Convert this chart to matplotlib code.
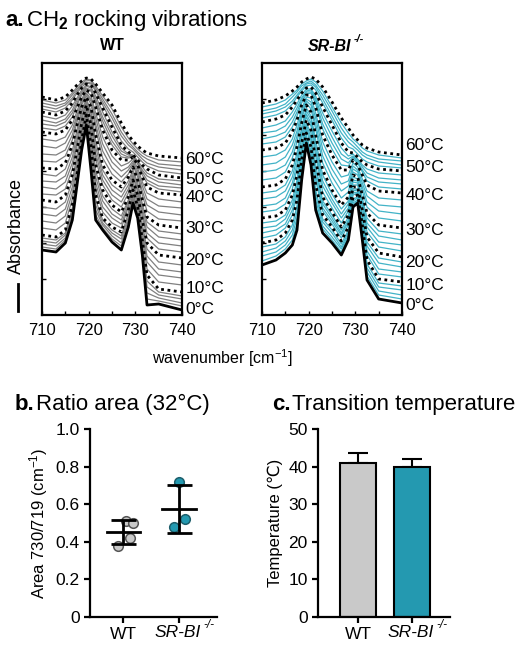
import numpy as np
import matplotlib
matplotlib.use("Agg")
import matplotlib.pyplot as plt
from matplotlib.lines import Line2D

plt.rcParams['font.family'] = ['Liberation Sans', 'DejaVu Sans']
plt.rcParams['mathtext.fontset'] = 'custom'
plt.rcParams['mathtext.rm'] = 'Liberation Sans'
plt.rcParams['mathtext.it'] = 'Liberation Sans:italic'
plt.rcParams['mathtext.bf'] = 'Liberation Sans:bold'

# ---- datos ----
onda = [710, 713, 715, 716.5, 717.5, 718.5, 719.5, 720.5, 721.5, 723, 725,
        727, 728.5, 729.5, 730.5, 731.5, 732.5, 735, 740]
temperaturas = list(range(0, 62, 2))

# absorbancia (unidades arbitrarias, desplazadas) WT, una fila por temperatura
espectros_wt = [
    [65, 63, 72, 95, 130, 165, 190, 145, 95, 85, 73, 65, 88, 112, 97, 60, 10, 11, 5],
    [68, 66, 75, 98, 132, 167, 192, 150, 100, 87, 76, 69, 91, 115, 99, 63, 16, 14, 9],
    [71, 69, 77, 101, 134, 169, 194, 155, 105, 90, 79, 72, 95, 117, 101, 66, 22, 17, 12],
    [74, 72, 80, 104, 136, 171, 196, 160, 110, 92, 82, 76, 98, 120, 104, 69, 28, 20, 16],
    [77, 75, 82, 107, 138, 173, 198, 165, 115, 95, 85, 79, 102, 122, 106, 72, 34, 23, 19],
    [80, 78, 85, 110, 140, 175, 200, 170, 120, 97, 88, 83, 105, 125, 108, 75, 40, 26, 23],
    [87, 85, 92, 116, 145, 178, 202, 174, 126, 103, 92, 87, 108, 127, 110, 79, 46, 33, 30],
    [94, 92, 99, 122, 150, 182, 204, 178, 132, 108, 97, 91, 110, 129, 113, 83, 53, 40, 37],
    [101, 99, 106, 128, 155, 185, 206, 182, 138, 114, 101, 95, 113, 131, 115, 87, 59, 46, 43],
    [108, 106, 113, 134, 160, 189, 208, 186, 144, 119, 106, 99, 115, 133, 118, 91, 66, 53, 50],
    [115, 113, 120, 140, 165, 192, 210, 190, 150, 125, 110, 103, 118, 135, 120, 95, 72, 60, 57],
    [121, 120, 126, 146, 170, 195, 212, 194, 156, 130, 115, 108, 122, 138, 123, 99, 77, 66, 63],
    [128, 126, 133, 152, 175, 198, 213, 197, 162, 135, 120, 113, 126, 140, 126, 103, 82, 72, 69],
    [134, 133, 139, 158, 180, 202, 215, 201, 168, 140, 125, 118, 130, 143, 129, 107, 88, 78, 75],
    [141, 139, 146, 164, 185, 205, 216, 204, 174, 145, 130, 123, 134, 145, 132, 111, 93, 84, 81],
    [147, 146, 152, 170, 190, 208, 218, 208, 180, 150, 135, 128, 138, 148, 135, 115, 98, 90, 87],
    [154, 153, 159, 175, 193, 210, 219, 211, 186, 157, 141, 133, 141, 150, 138, 120, 104, 96, 94],
    [161, 160, 165, 180, 197, 212, 221, 214, 191, 164, 147, 138, 145, 152, 141, 124, 110, 103, 100],
    [169, 167, 172, 185, 200, 214, 222, 216, 197, 171, 153, 144, 148, 154, 144, 129, 116, 109, 107],
    [176, 174, 178, 190, 204, 216, 224, 219, 202, 178, 159, 149, 152, 156, 147, 133, 122, 116, 113],
    [183, 181, 185, 195, 207, 218, 225, 222, 208, 185, 165, 155, 155, 158, 150, 138, 128, 122, 120],
    [187, 185, 189, 198, 210, 220, 226, 224, 211, 189, 170, 158, 157, 158, 151, 140, 132, 126, 123],
    [191, 189, 193, 202, 212, 222, 227, 225, 214, 194, 174, 161, 158, 159, 152, 143, 135, 129, 127],
    [195, 192, 196, 205, 215, 223, 229, 227, 216, 198, 179, 164, 160, 159, 153, 145, 139, 133, 130],
    [199, 196, 200, 209, 217, 225, 230, 228, 219, 203, 183, 167, 161, 160, 154, 148, 142, 136, 134],
    [203, 200, 204, 212, 220, 227, 231, 230, 222, 207, 188, 170, 163, 160, 155, 150, 146, 140, 137],
    [206, 203, 207, 215, 222, 228, 232, 231, 224, 210, 192, 174, 166, 163, 158, 153, 149, 144, 141],
    [209, 206, 210, 217, 224, 230, 233, 232, 225, 213, 197, 179, 170, 166, 161, 156, 152, 148, 145],
    [212, 209, 212, 220, 226, 231, 235, 234, 227, 216, 201, 183, 173, 168, 163, 159, 156, 151, 149],
    [215, 212, 215, 222, 228, 233, 236, 235, 229, 219, 206, 188, 177, 171, 166, 162, 159, 155, 153],
    [218, 215, 218, 225, 230, 234, 237, 236, 231, 222, 210, 192, 180, 174, 169, 165, 162, 159, 157],
]

espectros_sr = [
    [50, 55, 62, 70, 85, 135, 172, 150, 105, 82, 72, 60, 75, 108, 112, 75, 35, 16, 12],
    [54, 59, 66, 75, 91, 139, 174, 154, 110, 86, 75, 63, 78, 110, 114, 78, 39, 20, 16],
    [59, 63, 70, 80, 97, 143, 176, 157, 115, 89, 78, 66, 80, 112, 115, 81, 43, 24, 20],
    [63, 67, 74, 85, 103, 147, 178, 161, 120, 93, 82, 68, 83, 114, 117, 84, 47, 28, 25],
    [68, 71, 78, 90, 109, 151, 180, 164, 125, 96, 85, 71, 85, 116, 118, 87, 51, 32, 29],
    [72, 75, 82, 95, 115, 155, 182, 168, 130, 100, 88, 74, 88, 118, 120, 90, 55, 36, 33],
    [77, 80, 87, 100, 120, 158, 185, 171, 135, 104, 91, 77, 90, 120, 122, 93, 60, 41, 38],
    [82, 85, 91, 105, 125, 162, 187, 175, 140, 107, 94, 80, 93, 122, 123, 96, 64, 46, 43],
    [87, 89, 96, 110, 130, 165, 190, 178, 145, 111, 97, 82, 95, 124, 125, 99, 69, 52, 48],
    [92, 94, 100, 115, 135, 169, 192, 182, 150, 114, 100, 85, 98, 126, 126, 102, 73, 57, 53],
    [97, 99, 105, 120, 140, 172, 195, 185, 155, 118, 103, 88, 100, 128, 128, 105, 78, 62, 58],
    [103, 105, 111, 126, 146, 176, 198, 189, 160, 123, 107, 92, 104, 130, 130, 108, 83, 68, 64],
    [109, 111, 117, 132, 151, 180, 201, 192, 165, 129, 112, 97, 107, 133, 132, 111, 88, 73, 70],
    [116, 118, 124, 138, 157, 184, 204, 196, 170, 134, 116, 101, 111, 135, 134, 114, 92, 79, 75],
    [122, 124, 130, 144, 162, 188, 207, 199, 175, 140, 121, 106, 114, 138, 136, 117, 97, 84, 81],
    [128, 130, 136, 150, 168, 192, 210, 203, 180, 145, 125, 110, 118, 140, 138, 120, 102, 90, 87],
    [135, 137, 143, 157, 173, 196, 212, 206, 186, 152, 132, 117, 123, 143, 140, 124, 108, 97, 94],
    [143, 145, 150, 163, 179, 199, 214, 210, 191, 159, 139, 124, 129, 146, 143, 128, 113, 104, 101],
    [150, 152, 158, 170, 184, 203, 216, 213, 197, 166, 146, 131, 134, 149, 145, 132, 119, 110, 108],
    [158, 160, 165, 176, 190, 206, 218, 217, 202, 173, 153, 138, 140, 152, 148, 136, 124, 117, 115],
    [165, 167, 172, 183, 195, 210, 220, 220, 208, 180, 160, 145, 145, 155, 150, 140, 130, 124, 122],
    [171, 173, 178, 188, 199, 212, 221, 222, 211, 186, 166, 150, 149, 156, 152, 143, 134, 128, 126],
    [176, 179, 183, 193, 203, 215, 223, 223, 214, 191, 172, 156, 152, 158, 153, 145, 138, 133, 131],
    [182, 184, 189, 198, 207, 217, 224, 225, 216, 197, 178, 161, 156, 159, 155, 148, 142, 137, 135],
    [187, 190, 194, 203, 211, 220, 226, 226, 219, 202, 184, 167, 159, 161, 156, 150, 146, 142, 140],
    [193, 196, 200, 208, 215, 222, 227, 228, 222, 208, 190, 172, 163, 162, 158, 153, 150, 146, 144],
    [197, 200, 204, 211, 218, 224, 229, 230, 225, 212, 195, 177, 168, 166, 161, 156, 153, 149, 147],
    [201, 204, 208, 214, 220, 226, 231, 232, 228, 216, 199, 182, 173, 169, 165, 160, 157, 153, 150],
    [204, 207, 211, 218, 223, 229, 232, 234, 230, 220, 204, 187, 177, 173, 168, 163, 160, 156, 154],
    [208, 211, 215, 221, 225, 231, 234, 236, 233, 224, 208, 192, 182, 176, 172, 167, 164, 160, 157],
    [212, 215, 219, 224, 228, 233, 236, 238, 236, 228, 213, 197, 187, 180, 175, 170, 167, 163, 160],
]

etiquetas_temp = ["0°C", "10°C", "20°C", "30°C", "40°C", "50°C", "60°C"]

ratio_wt = [0.51, 0.50, 0.42, 0.38]
ratio_sr = [0.72, 0.52, 0.48]
grupos = ["WT", "SR-BI"]
temp_trans = [41.0, 40.0]
temp_trans_err = [2.5, 1.9]

# ---- estilo / posiciones ----
gris_linea = "#808080"
azul_linea = "#42b3c7"
gris_barra = "#c9c9c9"
azul_barra = "#2499b0"
pos_etq_wt = [6, 27, 55, 87, 117, 136, 155]
pos_etq_sr = [10, 30, 53, 85, 120, 148, 169]
jit_wt = [0.05, 0.18, 0.12, -0.1]
jit_sr = [0.0, 0.1, -0.1]

fig = plt.figure(figsize=(5.18, 6.5), dpi=100)
W, H = 518, 650


def caja(x0, y0, x1, y1):
    return [x0 / W, 1 - y1 / H, (x1 - x0) / W, (y1 - y0) / H]


def con_superindice(ax, texto, x, y, transform, size, peso="normal", **kw):
    t = ax.text(x, y, texto, transform=transform, fontsize=size, fontweight=peso,
                fontstyle="italic", **kw)
    ax.annotate("-/-", xy=(1, 1), xycoords=t, xytext=(2, 0), textcoords="offset points",
                fontsize=size * 0.68, fontweight=peso, fontstyle="italic",
                ha="left", va="center", annotation_clip=False)
    return t


def panel_espectros(ax, espectros, color, pos_etq):
    for t, fila in zip(temperaturas, espectros):
        if t % 10 != 0:
            ax.plot(onda, fila, color=color, lw=0.9, zorder=2)
    for t, fila in zip(temperaturas, espectros):
        if t % 10 == 0 and t > 0:
            ax.plot(onda, fila, color="black", lw=2.0, ls=(0, (1, 1.3)), zorder=3)
    ax.plot(onda, espectros[0], color="black", lw=2.0, zorder=4)
    ax.set_xlim(710, 740)
    ax.set_ylim(0, 252)
    ax.set_xticks([710, 720, 730, 740])
    ax.set_xticks([715, 725, 735], minor=True)
    ax.set_yticks(np.arange(36, 252, 36))
    ax.set_yticklabels([])
    ax.tick_params(axis="both", which="both", direction="in", length=3, width=1,
                   labelsize=12)
    ax.tick_params(axis="x", pad=6)
    for s in ax.spines.values():
        s.set_linewidth(1.6)
    for etq, y in zip(etiquetas_temp, pos_etq):
        ax.text(740.7, y, etq, fontsize=12.5, va="center", ha="left", clip_on=False)


ax1 = fig.add_axes(caja(42, 63, 182, 315))
panel_espectros(ax1, espectros_wt, gris_linea, pos_etq_wt)
ax1.set_title("WT", fontsize=11.5, fontweight="bold", pad=9)

ax2 = fig.add_axes(caja(262, 63, 402, 315))
panel_espectros(ax2, espectros_sr, azul_linea, pos_etq_sr)
con_superindice(ax2, grupos[1], 0.48, 1.035, ax2.transAxes, 11.5, peso="bold",
                ha="center", va="bottom")

# títulos y etiquetas generales
fig.text(5 / W, 1 - 26 / H, "a.", fontsize=16, fontweight="bold", va="baseline")
fig.text(26 / W, 1 - 26 / H, r"CH$_\mathbf{2}$ rocking vibrations", fontsize=16, va="baseline")
fig.text(222 / W, 1 - 358 / H, r"wavenumber [cm$^{-1}$]", fontsize=11.5, ha="center", va="center")
fig.text(16 / W, 1 - 226 / H, "Absorbance", fontsize=13, rotation=90, ha="center", va="center")
fig.add_artist(Line2D([18 / W, 18 / W], [1 - 311 / H, 1 - 284 / H], color="black", lw=2,
                      transform=fig.transFigure))

# ---- b. ratio ----
ax3 = fig.add_axes(caja(90, 429, 217, 617))
for i, (vals, jit, cara, borde) in enumerate([(ratio_wt, jit_wt, gris_barra, "#555555"),
                                               (ratio_sr, jit_sr, azul_barra, "#1d5e6b")]):
    v = np.array(vals)
    ax3.scatter(i + np.array(jit), v, s=48, color=cara, edgecolor=borde, linewidth=1.1, zorder=2)
    m, sd = v.mean(), v.std(ddof=1)
    ax3.plot([i - 0.3, i + 0.3], [m, m], color="black", lw=2, zorder=3)
    ax3.errorbar(i, m, yerr=sd, fmt="none", ecolor="black", elinewidth=2, capsize=9,
                 capthick=2, zorder=3)
ax3.set_xlim(-0.6, 1.68)
ax3.set_ylim(0, 1.0)
ax3.set_yticks([0, 0.2, 0.4, 0.6, 0.8, 1.0])
ax3.set_yticklabels(["0", "0.2", "0.4", "0.6", "0.8", "1.0"])
ax3.set_ylabel(r"Area 730/719 (cm$^{-1}$)", fontsize=12, labelpad=4)
fig.text(15 / W, 1 - 410 / H, "b.", fontsize=16, fontweight="bold", va="baseline")
fig.text(36 / W, 1 - 410 / H, "Ratio area (32°C)", fontsize=16, va="baseline")

# ---- c. temperatura de transición ----
ax4 = fig.add_axes(caja(318, 429, 450, 617))
ax4.bar([0, 1], temp_trans, width=0.67, color=[gris_barra, azul_barra], edgecolor="black",
        linewidth=1.5, zorder=2)
ax4.errorbar([0, 1], temp_trans, yerr=[[0, 0], temp_trans_err], fmt="none", ecolor="black",
             elinewidth=1.5, capsize=7, capthick=1.5, zorder=1)
ax4.set_xlim(-0.74, 1.7)
ax4.set_ylim(0, 50)
ax4.set_yticks([0, 10, 20, 30, 40, 50])
ax4.set_ylabel("Temperature (℃)", fontsize=12, labelpad=4)
fig.text(272 / W, 1 - 410 / H, "c.", fontsize=16, fontweight="bold", va="baseline")
fig.text(292 / W, 1 - 410 / H, "Transition temperature", fontsize=16, va="baseline")

for ax in [ax3, ax4]:
    ax.set_xticks([0, 1])
    ax.set_xticklabels([grupos[0], ""])
    ax.tick_params(labelsize=12.5, width=1.6, length=4)
    for s in ["top", "right"]:
        ax.spines[s].set_visible(False)
    for s in ["left", "bottom"]:
        ax.spines[s].set_linewidth(1.6)
    con_superindice(ax, grupos[1], 0.97, -0.045, ax.get_xaxis_transform(), 12.5,
                    ha="center", va="top")

fig.savefig("out.png", dpi=100)
